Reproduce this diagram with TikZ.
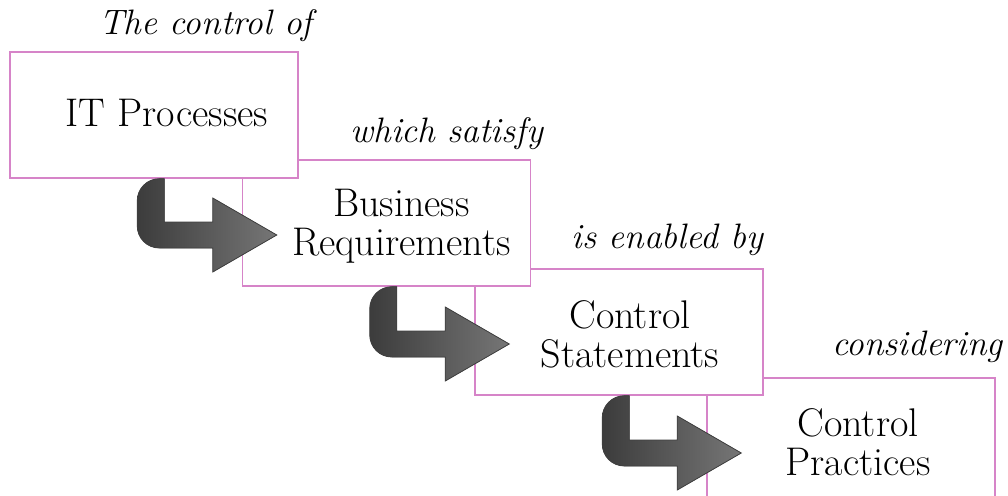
\documentclass[tikz,border=0pt]{standalone}
\usetikzlibrary{calc}
\definecolor{boxpink}{RGB}{214,132,200}
\definecolor{arrowdark}{RGB}{60,60,60}
\definecolor{arrowlight}{RGB}{118,118,118}
\tikzset{
  stagebox/.style={draw=boxpink, line width=1.1pt, fill=white,
    minimum width=216pt, minimum height=94.5pt, inner sep=0pt},
  stagetext/.style={font=\fontsize{30}{29.5}\selectfont, align=center, inner sep=0pt},
  linktext/.style={font=\fontsize{26.5}{28}\selectfont\itshape, anchor=base east, inner sep=0pt},
  stepper/.style={draw=black!75, line width=0.6pt,
    left color=arrowdark, right color=arrowlight, line join=miter}
}
% bent block arrow from the bottom of one stage into the left side of the next
\newcommand\bentarrow[2]{%
  \filldraw[stepper] ($(#1.south west)+(155,0)$) |- ($(#2.west)+(-29,-1)$)
    -- ++(0,-24) -- ++(64,37) -- ++(-64,37) -- ++(0,-24)
    [rounded corners=16.5pt] -| ($(#1.south west)+(128,0)$) [sharp corners] -- cycle;}
\begin{document}
\begin{tikzpicture}[x=0.75pt, y=-0.75pt]
  \useasboundingbox (0,0) rectangle (1008,496);
  \clip (0,0) rectangle (1008,496);
  \fill[white] (0,0) rectangle (1008,496);

  % stages, later ones sit behind earlier ones
  \node[stagebox] (b4) at (851,441) {};
  \node[stagebox] (b3) at (619,332) {};
  \node[stagebox] (b2) at (386.5,223) {};
  \node[stagebox] (b1) at (154,115) {};

  % arrows between the stages
  \bentarrow{b1}{b2}
  \bentarrow{b2}{b3}
  \bentarrow{b3}{b4}

  % stage titles
  \node[stagetext] (t1) at ($(b1)+(13,-2)$) {IT Processes};
  \node[stagetext] (t2) at ($(b2)+(15,3)$) {Business\\Requirements};
  \node[stagetext] (t3) at ($(b3)+(11,2.5)$) {Control\\Statements};
  \node[stagetext] (t4) at ($(b4)+(7,1)$) {Control\\Practices};

  % linking phrases above each stage
  \node[linktext] (l1) at ($(b1.north east)+(14,-17)$) {The control of};
  \node[linktext] (l2) at ($(b2.north east)+(12,-17)$) {which satisfy};
  \node[linktext] (l3) at ($(b3.north east)+(0,-20)$) {is enabled by};
  \node[linktext] (l4) at ($(b4.north east)+(7,-22)$) {considering};
\end{tikzpicture}
\end{document}
